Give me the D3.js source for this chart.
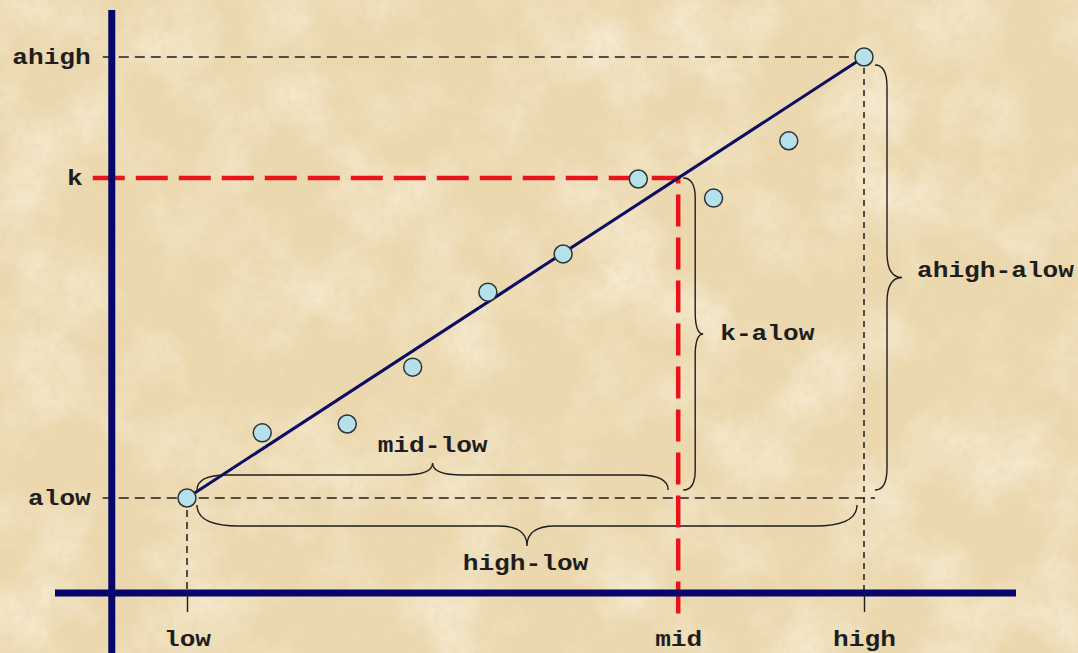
<!DOCTYPE html>
<html>
<head>
<meta charset="utf-8">
<script src="https://cdn.jsdelivr.net/npm/d3@7"></script>
<style>
  html, body { margin: 0; padding: 0; background: #eddcb6; }
  #chart svg { display: block; }
</style>
</head>
<body>
<div id="chart"></div>
<script>
// guide values (interpolation picture: low/mid/high on x, alow/k/ahigh on y)
const xTickValues = [1, 7.53, 10];
const xTickLabels = ["low", "mid", "high"];
const yTickValues = [1, 7.53, 10];
const yTickLabels = ["alow", "k", "ahigh"];

// sample points
const sampleX = [1, 2, 3.13, 4, 5, 6, 7, 8, 9, 10];
const sampleY = [1, 2.33, 2.51, 3.67, 5.2, 5.98, 7.51, 7.12, 8.29, 10];

// brace labels
const braceLabels = ["mid-low", "high-low", "k-alow", "ahigh-alow"];

const width = 1078;
const height = 653;

const [low, mid, high] = xTickValues;
const [alow, k, ahigh] = yTickValues;

const svg = d3
  .select("#chart")
  .append("svg")
  .attr("width", width)
  .attr("height", height);

// parchment background
const defs = svg.append("defs");
const paper = defs.append("filter").attr("id", "paper").attr("x", 0).attr("y", 0).attr("width", 1).attr("height", 1);
paper.append("feTurbulence").attr("type", "fractalNoise").attr("baseFrequency", "0.012").attr("numOctaves", 5).attr("seed", 7);
paper.append("feColorMatrix").attr("type", "matrix")
  .attr("values", "0 0 0 0 1  0 0 0 0 0.96  0 0 0 0 0.86  1.2 0 0 0 -0.5");
const grain = defs.append("filter").attr("id", "grain").attr("x", 0).attr("y", 0).attr("width", 1).attr("height", 1);
grain.append("feTurbulence").attr("type", "fractalNoise").attr("baseFrequency", "0.12").attr("numOctaves", 3).attr("seed", 2);
grain.append("feColorMatrix").attr("type", "matrix")
  .attr("values", "0 0 0 0 0.8  0 0 0 0 0.66  0 0 0 0 0.42  0.9 0 0 0 -0.38");

svg.append("rect").attr("width", width).attr("height", height).attr("fill", "#ebd8ae");
svg.append("rect").attr("width", width).attr("height", height).attr("filter", "url(#paper)");
svg.append("rect").attr("width", width).attr("height", height).attr("filter", "url(#grain)");

const xScale = d3.scaleLinear().domain([low, high]).range([187, 864]);
const yScale = d3.scaleLinear().domain([alow, ahigh]).range([498, 57]);

const axisX = xScale(0);      // vertical axis position
const axisY = yScale(-0.94);  // horizontal axis position

const font = "'Liberation Mono', 'Courier New', monospace";
const charW = 15.7;
const ink = "#1e1e1e";

// thin black dashed guides
const guides = svg.append("g").attr("fill", "none").attr("stroke", ink).attr("stroke-width", 1.5);
guides.append("line")
  .attr("x1", axisX - 9).attr("x2", xScale(high))
  .attr("y1", yScale(ahigh)).attr("y2", yScale(ahigh))
  .attr("stroke-dasharray", "10,6");
guides.append("line")
  .attr("x1", axisX - 9).attr("x2", xScale(high) + 11)
  .attr("y1", yScale(alow)).attr("y2", yScale(alow))
  .attr("stroke-dasharray", "10,6");
guides.append("line")
  .attr("x1", xScale(low)).attr("x2", xScale(low))
  .attr("y1", yScale(alow)).attr("y2", axisY)
  .attr("stroke-dasharray", "7,5");
guides.append("line")
  .attr("x1", xScale(high)).attr("x2", xScale(high))
  .attr("y1", yScale(ahigh)).attr("y2", axisY)
  .attr("stroke-dasharray", "6,5");

// curly braces
function brace(x1, y1, x2, y2, h, w, r, c) {
  const L = Math.hypot(x2 - x1, y2 - y1);
  const ux = (x2 - x1) / L, uy = (y2 - y1) / L;
  const nx = uy, ny = -ux;
  const P = (s, t) => `${x1 + ux * s + nx * t},${y1 + uy * s + ny * t}`;
  const m = L / 2;
  return `M${P(0, 0)} Q${P(0, h)} ${P(r, h)} L${P(m - c, h)} Q${P(m, h)} ${P(m, w)}` +
    ` Q${P(m, h)} ${P(m + c, h)} L${P(L - r, h)} Q${P(L, h)} ${P(L, 0)}`;
}

const braces = svg.append("g").attr("fill", "none").attr("stroke", ink).attr("stroke-width", 1.4);
braces.append("path")
  .attr("d", brace(xScale(low) + 10, yScale(alow) - 8, xScale(mid) - 10, yScale(alow) - 8, 15, 27, 30, 30));
braces.append("path")
  .attr("d", brace(xScale(high) - 7, yScale(alow) + 7, xScale(low) + 10, yScale(alow) + 7, 21, 41, 42, 28));
braces.append("path")
  .attr("d", brace(xScale(mid) + 5, yScale(k), xScale(mid) + 5, yScale(alow) - 8, 12, 20, 20, 22));
braces.append("path")
  .attr("d", brace(xScale(high) + 11, yScale(ahigh) + 8, xScale(high) + 11, yScale(alow) - 8, 12, 27, 22, 25));

// brace labels
const labelPos = [
  { x: (xScale(low) + xScale(mid)) / 2, y: 452, anchor: "middle" },
  { x: (xScale(low) + xScale(high)) / 2, y: 570, anchor: "middle" },
  { x: xScale(mid) + 42, y: 340, anchor: "start" },
  { x: xScale(high) + 53, y: 277, anchor: "start" },
];
svg.append("g")
  .selectAll("text")
  .data(braceLabels)
  .join("text")
  .attr("x", (d, i) => labelPos[i].anchor === "middle" ? labelPos[i].x - d.length * charW / 2 : labelPos[i].x)
  .attr("y", (d, i) => labelPos[i].y)
  .attr("textLength", (d) => d.length * charW)
  .attr("lengthAdjust", "spacingAndGlyphs")
  .style("font-family", font)
  .style("font-size", "22px")
  .style("font-weight", "bold")
  .attr("fill", ink)
  .text((d) => d);

// red dashed k / mid guide
const red = svg.append("g").attr("fill", "none").attr("stroke", "#e8141a").attr("stroke-width", 4.5);
red.append("path")
  .attr("d", `M${axisX - 19},${yScale(k)} H${xScale(mid)} V${axisY + 27}`)
  .attr("stroke-dasharray", "32,11");

// axes lines
const axes = svg.append("g").attr("stroke", "#06066c").attr("stroke-width", 7);
axes.append("line").attr("x1", axisX).attr("x2", axisX).attr("y1", 10).attr("y2", height);
axes.append("line").attr("x1", 55).attr("x2", 1016).attr("y1", axisY).attr("y2", axisY);

// tick labels via d3 axes
const xAxis = svg.append("g")
  .attr("transform", `translate(0,${axisY})`)
  .call(d3.axisBottom(xScale).tickValues(xTickValues).tickSize(19).tickPadding(18)
    .tickFormat((d, i) => xTickLabels[i]));
const yAxis = svg.append("g")
  .attr("transform", `translate(${axisX},0)`)
  .call(d3.axisLeft(yScale).tickValues(yTickValues).tickSize(0).tickPadding(21)
    .tickFormat((d, i) => yTickLabels[i]));

[xAxis, yAxis].forEach((ax) => {
  ax.select(".domain").remove();
  ax.selectAll(".tick line").attr("stroke", ink).attr("stroke-width", 1.4);
  ax.selectAll(".tick text")
    .attr("fill", ink)
    .attr("textLength", function () { return this.textContent.length * charW; })
    .attr("lengthAdjust", "spacingAndGlyphs")
    .style("font-family", font)
    .style("font-size", "22px")
    .style("font-weight", "bold");
});
xAxis.selectAll(".tick").filter((d, i) => i === 1).select("line").remove();
yAxis.selectAll(".tick text").attr("dy", "0.3em");
yAxis.selectAll(".tick").filter((d, i) => i === 1).select("text").attr("dx", -8);

// regression line
svg.append("line")
  .attr("x1", xScale(low)).attr("y1", yScale(alow))
  .attr("x2", xScale(high)).attr("y2", yScale(ahigh))
  .attr("stroke", "#0c0c62")
  .attr("stroke-width", 3);

// sample points
svg.append("g")
  .selectAll("circle")
  .data(sampleX.map((x, i) => ({ x, y: sampleY[i] })))
  .join("circle")
  .attr("cx", (d) => xScale(d.x))
  .attr("cy", (d) => yScale(d.y))
  .attr("r", 9)
  .attr("fill", "#b6e0ea")
  .attr("stroke", "#2a3438")
  .attr("stroke-width", 1.5);
</script>
</body>
</html>
